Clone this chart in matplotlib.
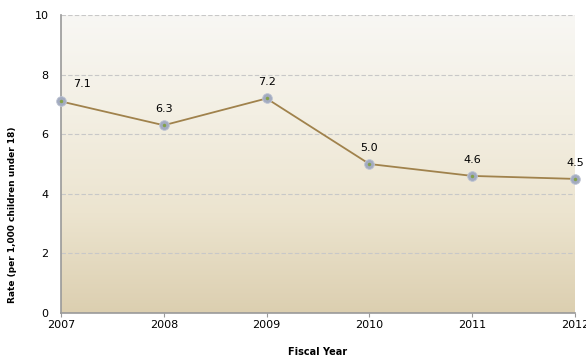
import matplotlib.pyplot as plt
import numpy as np
from matplotlib.colors import LinearSegmentedColormap

years = ['2007', '2008', '2009', '2010', '2011', '2012']
rates = [7.1, 6.3, 7.2, 5.0, 4.6, 4.5]

fig = plt.figure(figsize=(5.86, 3.6), dpi=100)
ax = fig.add_axes([61 / 586, 47 / 360, 514 / 586, 298 / 360])

# vertical gradient behind the plot
cmap = LinearSegmentedColormap.from_list('bg', ['#dccfb0', '#ece4cf', '#f3efe3', '#f8f7f4'])
grad = np.linspace(0, 1, 256).reshape(-1, 1)
ax.imshow(grad, cmap=cmap, aspect='auto', origin='lower',
          extent=[0, 1, 0, 1], transform=ax.transAxes, zorder=0)

x = np.arange(len(years))
ax.plot(x, rates, color='#a0824c', lw=1.3, zorder=3)
ax.plot(x, rates, ls='none', marker='o', ms=7, mfc='#a3abc0', mec='#c0c6d4',
        mew=0.6, zorder=4, clip_on=False)
ax.plot(x, rates, ls='none', marker='o', ms=2.5, mfc='#84a14a', mec='none',
        zorder=5, clip_on=False)

for i, v in enumerate(rates):
    if i == 0:
        ax.annotate(f'{v:.1f}', (i, v), xytext=(15, 9), textcoords='offset points',
                    ha='center', va='bottom', fontsize=8)
    else:
        ax.annotate(f'{v:.1f}', (i, v), xytext=(0, 8), textcoords='offset points',
                    ha='center', va='bottom', fontsize=8)

ax.set_xlim(0, len(years) - 1)
ax.set_ylim(0, 10)
ax.set_yticks([0, 2, 4, 6, 8, 10])
ax.set_xticks(x)
ax.set_xticklabels(years)
ax.yaxis.grid(True, ls=(0, (4, 2)), color='#c8c8c8', lw=0.8)
ax.set_axisbelow(True)
ax.tick_params(axis='y', length=0, labelsize=8, pad=9)
ax.tick_params(axis='x', length=3, color='#999999', labelsize=8, pad=2)
for s in ['top', 'right']:
    ax.spines[s].set_visible(False)
for s in ['left', 'bottom']:
    ax.spines[s].set_color('#999999')
    ax.spines[s].set_linewidth(1.2)

fig.text(13 / 586, 145 / 360, 'Rate (per 1,000 children under 18)', rotation=90,
         ha='center', va='center', fontsize=6.5, fontweight='bold')
fig.text(318 / 586, 8 / 360, 'Fiscal Year', ha='center', va='center',
         fontsize=7, fontweight='bold')

fig.savefig('out.png', dpi=100)
